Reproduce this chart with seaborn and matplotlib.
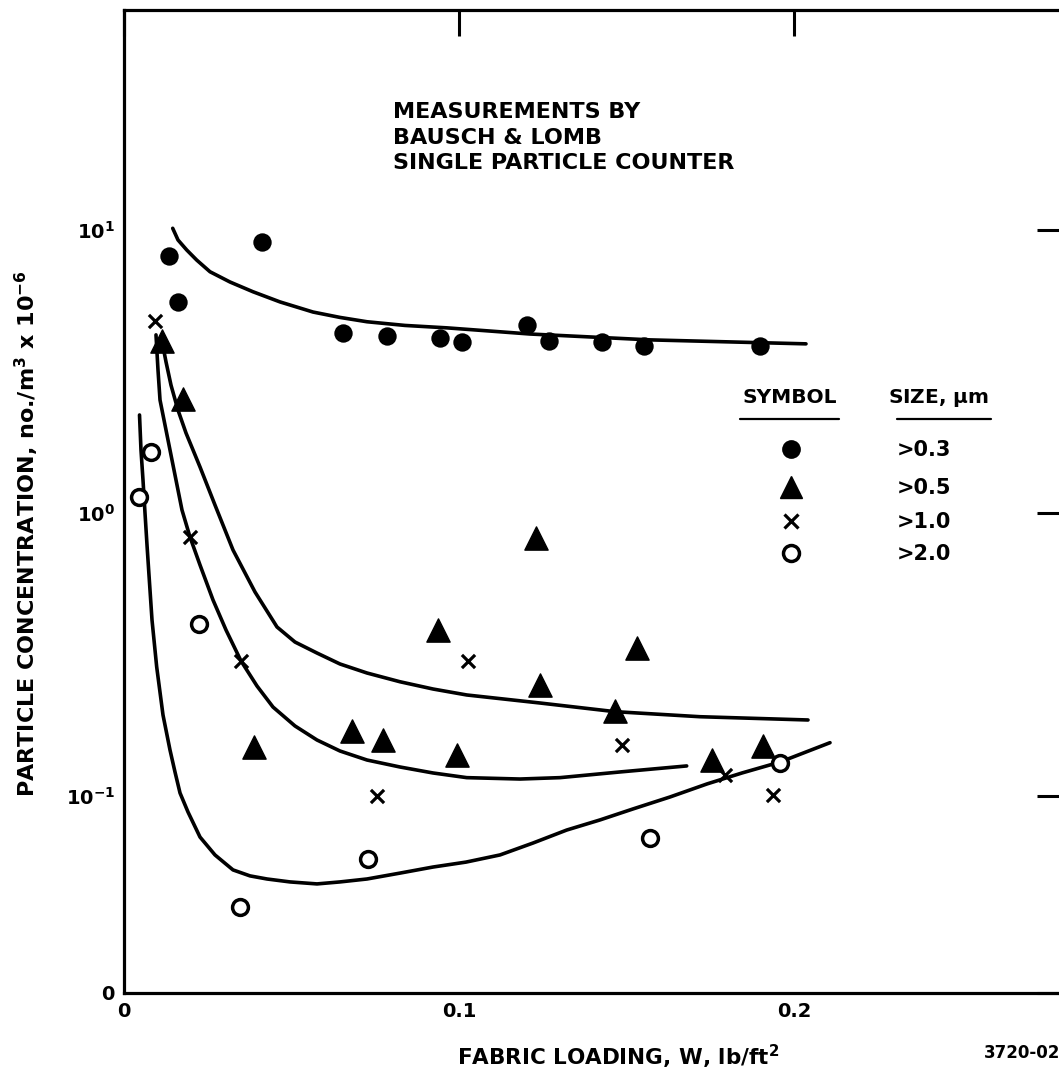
import numpy as np
import pandas as pd
import matplotlib
matplotlib.use("Agg")
import matplotlib.pyplot as plt
from matplotlib.lines import Line2D
import seaborn as sns

# Measured concentrations (no./m^3 x 10^-6) against fabric loading W (lb/ft^2)
w_03 = [0.0134, 0.0161, 0.0412, 0.0654, 0.0785, 0.0943, 0.1009, 0.1203, 0.1269, 0.1427, 0.1552, 0.1899]
c_03 = [8.09, 5.57, 9.08, 4.33, 4.22, 4.16, 4.02, 4.61, 4.06, 4.02, 3.89, 3.89]

w_05 = [0.01125, 0.0177, 0.0388, 0.0680, 0.0772, 0.0936, 0.0993, 0.1230, 0.1242, 0.1466, 0.1532, 0.1754, 0.1907]
c_05 = [4.06, 2.52, 0.149, 0.169, 0.158, 0.386, 0.140, 0.816, 0.246, 0.200, 0.333, 0.134, 0.150]

w_10 = [0.00925, 0.0197, 0.0348, 0.0754, 0.1028, 0.1486, 0.1794, 0.1938]
c_10 = [4.78, 0.825, 0.300, 0.100, 0.301, 0.151, 0.119, 0.101]

w_20 = [0.00457, 0.00797, 0.02248, 0.0346, 0.0729, 0.1570, 0.1958]
c_20 = [1.136, 1.638, 0.406, 0.0406, 0.0597, 0.0709, 0.1305]

# Hand-faired trend curves through each size class
fit_w_03 = [0.01454, 0.01612, 0.01872, 0.02170, 0.02567, 0.03164, 0.03851, 0.04657, 0.05642,
            0.06448, 0.07254, 0.08388, 0.09642, 0.12119, 0.15701, 0.20358]
fit_c_03 = [10.14, 9.22, 8.50, 7.83, 7.12, 6.55, 6.05, 5.57, 5.13,
            4.91, 4.74, 4.60, 4.51, 4.29, 4.09, 3.96]

fit_w_05 = [0.01134, 0.01254, 0.01403, 0.01612, 0.01851, 0.02060, 0.02269, 0.02716, 0.03254, 0.03910,
            0.04567, 0.05104, 0.05761, 0.06448, 0.07254, 0.08239, 0.09224, 0.10230, 0.12418, 0.14657,
            0.17194, 0.20418]
fit_c_05 = [4.05, 3.42, 2.83, 2.31, 1.917, 1.670, 1.454, 1.067, 0.740, 0.526,
            0.3956, 0.350, 0.320, 0.2927, 0.272, 0.2533, 0.2388, 0.2275, 0.2131, 0.1986,
            0.1906, 0.1856]

fit_w_10 = [0.00955, 0.01015, 0.01075, 0.01224, 0.01373, 0.01552, 0.01731, 0.01970, 0.02269, 0.02657,
            0.03045, 0.03493, 0.03970, 0.04448, 0.05104, 0.05761, 0.06448, 0.07254, 0.08239, 0.09224,
            0.10230, 0.11821, 0.13015, 0.14806, 0.16797]
fit_c_10 = [4.26, 3.20, 2.508, 2.046, 1.670, 1.308, 1.0247, 0.8226, 0.655, 0.4928,
            0.386, 0.300, 0.2447, 0.2062, 0.1768, 0.1577, 0.1442, 0.1340, 0.1266, 0.1206,
            0.1161, 0.1148, 0.1161, 0.1216, 0.1277]

fit_w_20 = [0.00463, 0.00507, 0.00567, 0.00627, 0.00687, 0.00746, 0.00836, 0.00976, 0.01164, 0.01373,
            0.01522, 0.01672, 0.01910, 0.02269, 0.02716, 0.03254, 0.03761, 0.04269, 0.04955, 0.05761,
            0.06448, 0.07254, 0.08239, 0.09224, 0.10209, 0.11224, 0.12209, 0.13215, 0.14209, 0.15194,
            0.16299, 0.17403, 0.18448, 0.19582, 0.21075]
fit_c_20 = [2.22, 1.670, 1.308, 1.0, 0.770, 0.604, 0.4187, 0.2857, 0.1933, 0.1454,
            0.1216, 0.1025, 0.0878, 0.0716, 0.0619, 0.0548, 0.0522, 0.0509, 0.0497, 0.0489,
            0.0497, 0.0509, 0.0534, 0.0561, 0.0584, 0.0619, 0.0682, 0.0758, 0.0823, 0.0900,
            0.0992, 0.1103, 0.1206, 0.1318, 0.1543]

size_labels = [">0.3", ">0.5", ">1.0", ">2.0"]
x_ticks = [0.0, 0.1, 0.2]
x_tick_labels = ["0", "0.1", "0.2"]
y_ticks = [0.02013, 0.1, 1.0, 10.0]
y_tick_labels = ["0", "$10^{-1}$", "$10^{0}$", "$10^{1}$"]
note_lines = ["MEASUREMENTS BY", "BAUSCH & LOMB", "SINGLE PARTICLE COUNTER"]

sns.set_style("white")
plt.rcParams["font.family"] = ["DejaVu Sans"]
plt.rcParams["font.weight"] = "bold"
plt.rcParams["text.color"] = "black"
plt.rcParams["axes.labelcolor"] = "black"
plt.rcParams["xtick.color"] = "black"
plt.rcParams["ytick.color"] = "black"
plt.rcParams["mathtext.fontset"] = "custom"
plt.rcParams["mathtext.rm"] = "DejaVu Sans:bold"
plt.rcParams["mathtext.it"] = "DejaVu Sans:bold:italic"
plt.rcParams["mathtext.bf"] = "DejaVu Sans:bold"
plt.rcParams["mathtext.default"] = "rm"

W, H = 1059, 1073
fig = plt.figure(figsize=(W / 100, H / 100), dpi=100)
fig.patch.set_facecolor("white")


def fx(px):
    return px / W


def fy(py):
    return 1 - py / H


ax = fig.add_axes([fx(124), fy(993), 939 / W, 983 / H])
ax.set_yscale("log")

LW = 2.6
for cw, cc in [(fit_w_03, fit_c_03), (fit_w_05, fit_c_05), (fit_w_10, fit_c_10), (fit_w_20, fit_c_20)]:
    sns.lineplot(x=cw, y=cc, ax=ax, color="black", lw=LW, sort=False, estimator=None, zorder=2)

sns.scatterplot(x=w_03, y=c_03, ax=ax, marker="o", s=175, color="black", edgecolor="black", linewidth=0, zorder=3)
sns.scatterplot(x=w_05, y=c_05, ax=ax, marker="^", s=280, color="black", edgecolor="black", linewidth=1.0, zorder=3)
sns.scatterplot(x=w_10, y=c_10, ax=ax, marker="x", s=90, color="black", linewidth=2.3, zorder=3)
sns.scatterplot(x=w_20, y=c_20, ax=ax, marker="o", s=130, facecolor="white", edgecolor="black", linewidth=2.5, zorder=3)

ax.set_xlim(0, 939 / 3350)
ax.set_ylim(10 ** (-1 - 197 / 283), 10 ** (1 + 220 / 283))
ax.set_xticks(x_ticks)
ax.set_xticklabels(x_tick_labels)
ax.set_yticks(y_ticks)
ax.set_yticklabels(y_tick_labels)
ax.yaxis.set_minor_locator(matplotlib.ticker.NullLocator())
ax.xaxis.set_minor_locator(matplotlib.ticker.NullLocator())
ax.tick_params(axis="both", which="major", direction="in", length=19, width=2.2,
               top=True, right=True, labelsize=14, pad=6.5, colors="black")
for sp in ax.spines.values():
    sp.set_visible(True)
    sp.set_linewidth(2.3)
    sp.set_color("black")
ax.set_xlabel("")
ax.set_ylabel("")

fig.text(fx(27), fy(534), "PARTICLE CONCENTRATION, no./m$^3$ x 10$^{-6}$",
         rotation=90, ha="center", va="center", fontsize=16)
fig.text(fx(618), fy(1057), "FABRIC LOADING, W, lb/ft$^2$", ha="center", va="center", fontsize=15.5)
fig.text(fx(984), fy(1053), "3720-02", ha="left", va="center", fontsize=12)

for i, line in enumerate(note_lines):
    fig.text(fx(393), fy(118 + 25.5 * i), line, ha="left", va="baseline", fontsize=16)

# symbol key
fig.text(fx(742), fy(403), "SYMBOL", ha="left", va="baseline", fontsize=14.5)
fig.text(fx(888), fy(403), "SIZE, $\\mu$m", ha="left", va="baseline", fontsize=14.5)
fig.add_artist(Line2D([fx(740), fx(839)], [fy(419), fy(419)], color="black", lw=1.6, transform=fig.transFigure))
fig.add_artist(Line2D([fx(897), fx(991)], [fy(419), fy(419)], color="black", lw=1.6, transform=fig.transFigure))

key_y = [449, 487, 521, 553]
key_styles = [
    dict(marker="o", markersize=13.5, markerfacecolor="black", markeredgecolor="black", markeredgewidth=0),
    dict(marker="^", markersize=16.5, markerfacecolor="black", markeredgecolor="black", markeredgewidth=1.0),
    dict(marker="x", markersize=10, markeredgecolor="black", markeredgewidth=2.3),
    dict(marker="o", markersize=11.5, markerfacecolor="white", markeredgecolor="black", markeredgewidth=2.5),
]
for ky, style, lab in zip(key_y, key_styles, size_labels):
    fig.add_artist(Line2D([fx(791)], [fy(ky)], linestyle="none", transform=fig.transFigure, **style))
    fig.text(fx(897), fy(ky + 7), lab, ha="left", va="baseline", fontsize=15)

fig.savefig("out.png", dpi=100, facecolor="white")
